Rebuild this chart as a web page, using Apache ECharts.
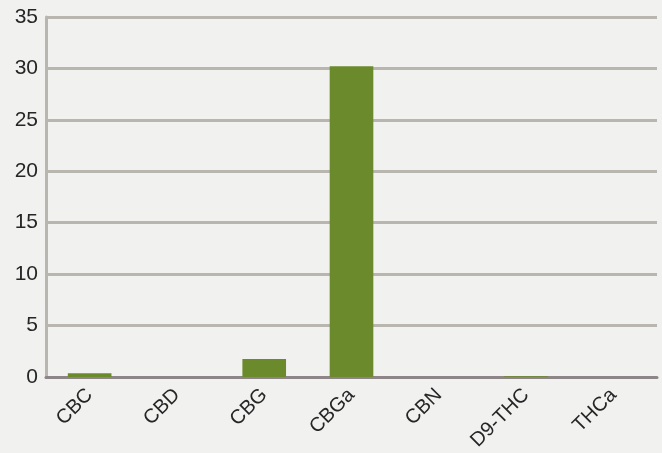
<!DOCTYPE html>
<html><head><meta charset="utf-8">
<script src="https://cdn.jsdelivr.net/npm/echarts@6/dist/echarts.min.js"></script>
<style>html,body{margin:0;padding:0;background:#f1f1f0;}#c{width:662px;height:453px;}</style>
</head><body><div id="c"></div>
<script>
const categories = ['CBC','CBD','CBG','CBGa','CBN','D9-THC','THCa'];
const values = [0.35, 0, 1.75, 30.2, 0, 0.06, 0];
const yTicks = {min:0, max:35, interval:5};
const chart = echarts.init(document.getElementById('c'));
chart.setOption({
  backgroundColor:'#f1f1f0',
  animation:false,
  grid:{left:46, right:5, top:17, bottom:75},
  xAxis:{type:'category', data:categories,
    axisLine:{lineStyle:{color:'#8e8588', width:3}},
    axisTick:{show:false},
    axisLabel:{rotate:45, color:'#262626', fontSize:20, fontFamily:'Liberation Sans, Arial', margin:15, interval:0}},
  yAxis:{type:'value', min:yTicks.min, max:yTicks.max, interval:yTicks.interval,
    axisLine:{show:true, lineStyle:{color:'#b9b6b0', width:3}},
    axisTick:{show:false},
    splitLine:{lineStyle:{color:'#b9b6b0', width:3}},
    axisLabel:{color:'#262626', fontSize:21, fontFamily:'Liberation Sans, Arial', margin:8}},
  series:[{type:'bar', data:values, barWidth:'50%', itemStyle:{color:'#6a8a2c'}}]
});
</script></body></html>
